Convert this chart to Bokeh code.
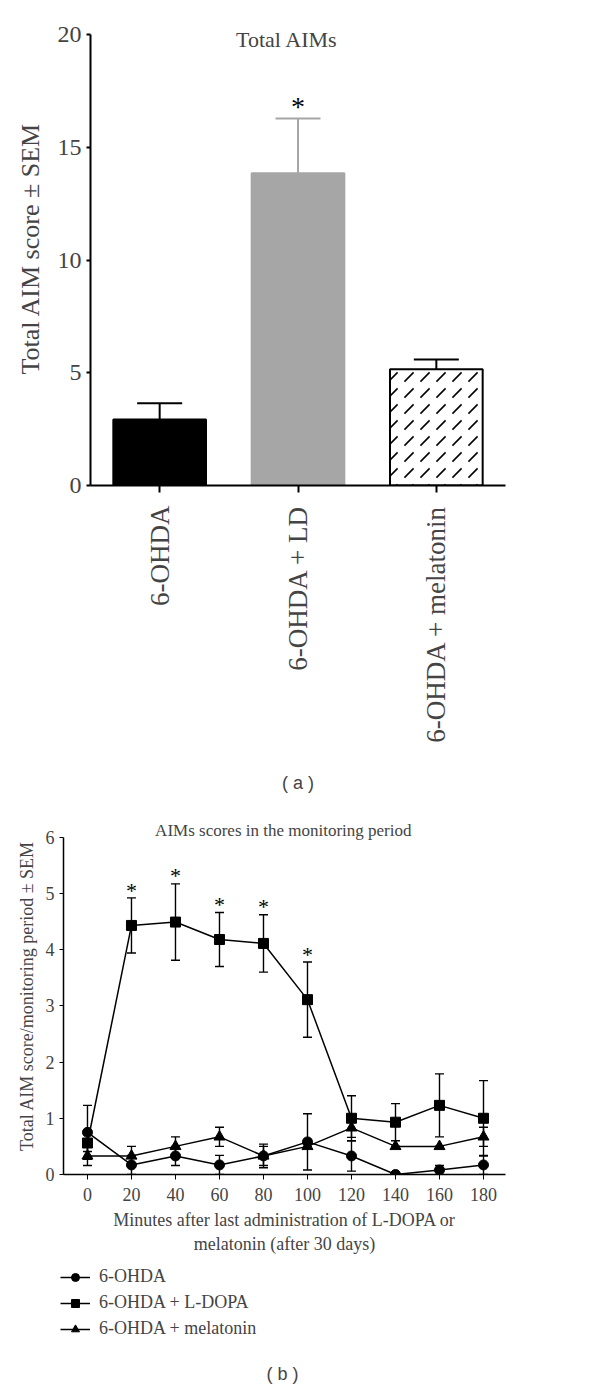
import math
from bokeh.plotting import figure
from bokeh.models import (ColumnDataSource, FixedTicker, Label, Legend, LegendItem,
                          Range1d, FactorRange)
from bokeh.layouts import column
from bokeh.core.properties import value
from bokeh.embed import file_html
from bokeh.resources import INLINE

# ---------------- data: panel (a) ----------------
groups = ["6-OHDA", "6-OHDA + LD", "6-OHDA + melatonin"]
totals = [2.93, 13.85, 5.15]
totals_sem = [0.72, 2.42, 0.44]
totals_sig = [False, True, False]
bar_fill = ["#000000", "#a6a6a6", "#ffffff"]
bar_line = ["#000000", "#a6a6a6", "#000000"]
bar_hatch = ["blank", "blank", "right_diagonal_dash"]
y_ticks_a = [0, 5, 10, 15, 20]

# ---------------- data: panel (b) ----------------
minutes = [0, 20, 40, 60, 80, 100, 120, 140, 160, 180]
ohda = [0.75, 0.17, 0.33, 0.17, 0.33, 0.58, 0.33, 0.0, 0.08, 0.17]
ohda_sem = [0.48, 0.17, 0.17, 0.17, 0.21, 0.50, 0.27, 0.0, 0.08, 0.17]
ldopa = [0.56, 4.43, 4.49, 4.18, 4.11, 3.11, 1.0, 0.93, 1.23, 1.0]
ldopa_sem = [0.15, 0.49, 0.68, 0.48, 0.51, 0.67, 0.40, 0.33, 0.56, 0.67]
mel = [0.33, 0.33, 0.5, 0.67, 0.33, 0.5, 0.83, 0.5, 0.5, 0.67]
mel_sem = [0.17, 0.17, 0.17, 0.17, 0.17, 0.0, 0.17, 0.0, 0.0, 0.17]
ldopa_sig = [False, True, True, True, True, True, False, False, False, False]
y_ticks_b = [0, 1, 2, 3, 4, 5, 6]
series_names = ["6-OHDA", "6-OHDA + L-DOPA", "6-OHDA + melatonin"]

SERIF = "Liberation Serif"
SANS = "Liberation Sans"

# ================= panel (a) =================
src_a = ColumnDataSource(dict(
    g=groups, v=totals,
    up=[v + e for v, e in zip(totals, totals_sem)],
    fc=bar_fill, lc=bar_line, hp=bar_hatch,
))

p1 = figure(x_range=FactorRange(*groups), y_range=Range1d(0, 21.02),
            frame_width=415, frame_height=474,
            min_border_left=90, min_border_right=87,
            min_border_top=11, min_border_bottom=315,
            output_backend="svg", toolbar_location=None)
p1.frame_align = False
p1.outline_line_color = None
p1.grid.visible = False

p1.segment(x0="g", y0="v", x1="g", y1="up", line_color="lc", line_width=2, source=src_a)
p1.scatter(x="g", y="up", marker="dash", size=45, line_color="lc", line_width=2, source=src_a)
p1.vbar(x="g", top="v", width=0.67, fill_color="fc", line_color="lc", line_width=2,
        hatch_pattern="hp", hatch_color="black", hatch_scale=16, hatch_weight=1.6,
        source=src_a)

sig_a = [i for i, s in enumerate(totals_sig) if s]
p1.text(x=[groups[i] for i in sig_a], y=[totals[i] + totals_sem[i] + 0.55 for i in sig_a],
        text=["*"] * len(sig_a), text_font=value(SERIF), text_font_size="28px",
        text_align="center", text_baseline="middle", text_color="black")

p1.add_layout(Label(x=1.42, y=19.8, text="Total AIMs", text_font=SERIF,
                    text_font_size="22px", text_align="center", text_baseline="middle"))

ya = p1.yaxis[0]
ya.ticker = FixedTicker(ticks=y_ticks_a)
ya.bounds = (0, 20)
ya.axis_label = "Total AIM score \u00b1 SEM"
ya.axis_label_text_font = SERIF
ya.axis_label_text_font_style = "normal"
ya.axis_label_text_font_size = "26px"
ya.axis_label_standoff = 10
ya.major_label_text_font = SERIF
ya.major_label_text_font_size = "24px"
ya.major_label_standoff = 5
ya.major_tick_out = 4
ya.major_tick_in = 0
ya.minor_tick_out = 0
ya.minor_tick_in = 0
ya.axis_line_width = 2
ya.major_tick_line_width = 2

xa = p1.xaxis[0]
xa.major_label_orientation = math.pi / 2
xa.major_label_text_font = SERIF
xa.major_label_text_font_size = "27px"
xa.major_label_standoff = 13
xa.major_tick_out = 7
xa.major_tick_in = 0
xa.axis_line_width = 2
xa.major_tick_line_width = 2
xa.axis_label = "( a )"
xa.axis_label_text_font = SANS
xa.axis_label_text_font_style = "normal"
xa.axis_label_text_font_size = "18px"
xa.axis_label_standoff = 27

# ================= panel (b) =================
p2 = figure(x_range=Range1d(-10.9, 190), y_range=Range1d(0, 6.35),
            frame_width=442, frame_height=357,
            min_border_left=63, min_border_right=87,
            min_border_top=17, min_border_bottom=88,
            output_backend="svg", toolbar_location=None)
p2.frame_align = False
p2.outline_line_color = None
p2.grid.visible = False

# legend strip under panel (b); its x range lies beyond the data, so the
# swatch renderers carry the series but draw nothing visible
p3 = figure(x_range=Range1d(1000, 1584), y_range=Range1d(0, 125),
            frame_width=584, frame_height=125,
            min_border_left=0, min_border_right=0, min_border_top=0, min_border_bottom=0,
            x_axis_type=None, y_axis_type=None,
            output_backend="svg", toolbar_location=None)
p3.frame_align = False
p3.outline_line_color = None
p3.grid.visible = False

series = [
    (series_names[0], ohda, ohda_sem, "circle", 10),
    (series_names[1], ldopa, ldopa_sem, "square", 10),
    (series_names[2], mel, mel_sem, "triangle", 11),
]
items = []
for name, vals, sems, marker, msize in series:
    s = ColumnDataSource(dict(
        x=minutes, y=vals,
        lo=[v - e for v, e in zip(vals, sems)],
        hi=[v + e for v, e in zip(vals, sems)],
    ))
    p2.segment(x0="x", y0="lo", x1="x", y1="hi", line_color="black", line_width=1.4, source=s)
    p2.scatter(x="x", y="lo", marker="dash", size=9, line_color="black", line_width=1.4, source=s)
    p2.scatter(x="x", y="hi", marker="dash", size=9, line_color="black", line_width=1.4, source=s)
    p2.line(x="x", y="y", line_color="black", line_width=1.5, source=s)
    p2.scatter(x="x", y="y", marker=marker, size=msize, fill_color="black",
               line_color="black", source=s)
    lr = p3.line(x="x", y="y", line_color="black", line_width=1.5, source=s)
    mr = p3.scatter(x="x", y="y", marker=marker, size=msize, fill_color="black",
                    line_color="black", source=s)
    items.append(LegendItem(label=name, renderers=[lr, mr]))

sig_b = [i for i, s in enumerate(ldopa_sig) if s]
p2.text(x=[minutes[i] for i in sig_b], y=[ldopa[i] + ldopa_sem[i] + 0.14 for i in sig_b],
        text=["*"] * len(sig_b), text_font=value(SERIF), text_font_size="22px",
        text_align="center", text_baseline="middle", text_color="black")

p2.add_layout(Label(x=89, y=6.12, text="AIMs scores in the monitoring period", text_font=SERIF,
                    text_font_size="17px", text_align="center", text_baseline="middle"))

yb = p2.yaxis[0]
yb.ticker = FixedTicker(ticks=y_ticks_b)
yb.bounds = (0, 6)
yb.axis_label = "Total AIM score/monitoring period \u00b1 SEM"
yb.axis_label_text_font = SERIF
yb.axis_label_text_font_style = "normal"
yb.axis_label_text_font_size = "18px"
yb.axis_label_standoff = 6
yb.major_label_text_font = SERIF
yb.major_label_text_font_size = "18px"
yb.major_label_standoff = 5
yb.major_tick_out = 4
yb.major_tick_in = 0
yb.minor_tick_out = 0
yb.minor_tick_in = 0
yb.axis_line_width = 1.5

xb = p2.xaxis[0]
xb.ticker = FixedTicker(ticks=minutes)
xb.axis_label = "Minutes after last administration of L-DOPA or\nmelatonin (after 30 days)"
xb.axis_label_text_font = SERIF
xb.axis_label_text_font_style = "normal"
xb.axis_label_text_font_size = "18px"
xb.axis_label_standoff = 6
xb.major_label_text_font = SERIF
xb.major_label_text_font_size = "18px"
xb.major_label_standoff = 8
xb.major_tick_out = 5
xb.major_tick_in = 0
xb.minor_tick_out = 0
xb.minor_tick_in = 0
xb.axis_line_width = 1.5

legend = Legend(items=items, location=(60, 48), orientation="vertical",
                glyph_width=30, glyph_height=20, label_height=20, spacing=5,
                padding=0, margin=0, label_standoff=9,
                label_text_font=SERIF, label_text_font_size="18px",
                border_line_color=None, background_fill_alpha=0)
p3.add_layout(legend, "center")
p3.add_layout(Label(x=1282, y=14, text="( b )", text_font=SANS,
                    text_font_size="18px", text_align="center", text_baseline="middle"))

layout = column(p1, p2, p3, spacing=0)
open("out.html", "w").write(file_html(layout, INLINE))
